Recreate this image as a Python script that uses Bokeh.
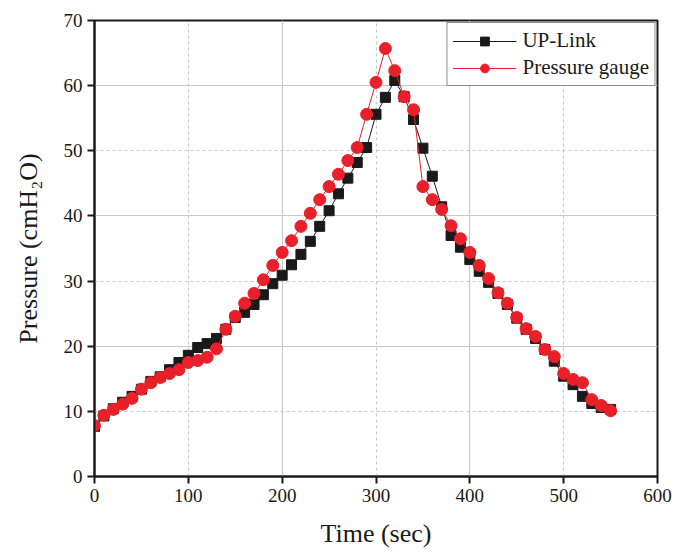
from bokeh.plotting import figure
from bokeh.models import FixedTicker, Grid, Legend, LegendItem, Range1d
from bokeh.embed import file_html
from bokeh.resources import INLINE

time = list(range(0, 560, 10))
uplink = [7.7, 9.3, 10.4, 11.4, 12.3, 13.4, 14.6, 15.3, 16.4, 17.5,
          18.6, 19.8, 20.4, 21.2, 22.6, 24.4, 25.2, 26.4, 27.9, 29.6,
          30.9, 32.5, 34.1, 36.1, 38.4, 40.8, 43.4, 45.8, 48.2, 50.5,
          55.6, 58.2, 60.8, 58.3, 54.8, 50.4, 46.1, 41.4, 37.0, 35.2,
          33.3, 31.5, 29.8, 28.1, 26.4, 24.3, 22.6, 21.2, 19.5, 17.7,
          15.4, 14.1, 12.3, 11.2, 10.6, 10.3]
gauge = [7.8, 9.4, 10.3, 11.1, 12.0, 13.4, 14.4, 15.2, 15.8, 16.4,
         17.5, 17.8, 18.3, 19.6, 22.6, 24.6, 26.6, 28.1, 30.2, 32.4,
         34.4, 36.2, 38.4, 40.4, 42.5, 44.5, 46.4, 48.5, 50.5, 55.6,
         60.5, 65.7, 62.3, 58.3, 56.3, 44.5, 42.5, 41.0, 38.5, 36.5,
         34.4, 32.4, 30.4, 28.2, 26.6, 24.4, 22.7, 21.5, 19.5, 18.4,
         15.8, 14.9, 14.4, 11.8, 10.9, 10.1]

x_ticks = [0, 100, 200, 300, 400, 500, 600]
y_ticks = [0, 10, 20, 30, 40, 50, 60, 70]

FONT = "Liberation Serif"

p = figure(width=674, height=554, output_backend="svg", toolbar_location=None,
           x_range=Range1d(0, 600), y_range=Range1d(0, 70),
           min_border_left=94, min_border_right=17, min_border_top=20,
           min_border_bottom=78)

p.xgrid.visible = False
p.ygrid.visible = False
solid_x = Grid(dimension=0, ticker=FixedTicker(ticks=[200, 400]),
               grid_line_color="#c8c8c8", grid_line_width=1.2)
dot_x = Grid(dimension=0, ticker=FixedTicker(ticks=[100, 300, 500]),
             grid_line_color="#c8c8c8", grid_line_width=1.2, grid_line_dash="3 3")
solid_y = Grid(dimension=1, ticker=FixedTicker(ticks=[20, 40, 60]),
               grid_line_color="#c8c8c8", grid_line_width=1.2)
dot_y = Grid(dimension=1, ticker=FixedTicker(ticks=[10, 30, 50]),
             grid_line_color="#c8c8c8", grid_line_width=1.2, grid_line_dash="3 3")
for g in (solid_x, dot_x, solid_y, dot_y):
    p.add_layout(g)

p.outline_line_color = "#1a1a1a"
p.outline_line_width = 2
p.outline_line_alpha = 1

p.xaxis.ticker = FixedTicker(ticks=x_ticks)
p.yaxis.ticker = FixedTicker(ticks=y_ticks)
for ax in (p.xaxis[0], p.yaxis[0]):
    ax.axis_line_width = 2
    ax.axis_line_color = "#1a1a1a"
    ax.major_tick_line_color = "#1a1a1a"
    ax.major_tick_line_width = 2
    ax.major_tick_out = 7
    ax.major_tick_in = 0
    ax.minor_tick_line_color = None
    ax.major_label_text_font = FONT
    ax.major_label_text_font_size = "19px"
    ax.major_label_text_color = "#1a1a1a"
    ax.axis_label_text_font = FONT
    ax.axis_label_text_font_size = "26px"
    ax.axis_label_text_font_style = "normal"
    ax.axis_label_text_color = "#1a1a1a"

p.xaxis.axis_label = "Time (sec)"
p.yaxis.axis_label = "Pressure (cmH\u2082O)"
p.xaxis.axis_label_standoff = 14
p.yaxis.axis_label_standoff = 18

l1 = p.line(time, uplink, line_color="#1a1a1a", line_width=1)
m1 = p.scatter(time, uplink, marker="square", size=10, fill_color="#1a1a1a",
               line_color="#1a1a1a")
l2 = p.line(time, gauge, line_color="#e8202a", line_width=1)
m2 = p.scatter(time, gauge, marker="circle", size=12, fill_color="#e8202a",
               line_color="#e8202a")

legend = Legend(items=[LegendItem(label="UP-Link", renderers=[l1, m1]),
                       LegendItem(label="Pressure gauge", renderers=[l2, m2])],
                location="top_right")
legend.label_text_font = FONT
legend.label_text_font_size = "21px"
legend.label_text_color = "#1a1a1a"
legend.border_line_color = "#1a1a1a"
legend.border_line_width = 1
legend.glyph_width = 64
legend.glyph_height = 22
legend.spacing = 2
legend.padding = 5
legend.margin = 2
legend.label_standoff = 6
legend.background_fill_alpha = 1
p.add_layout(legend)

open("out.html", "w").write(file_html(p, INLINE))
